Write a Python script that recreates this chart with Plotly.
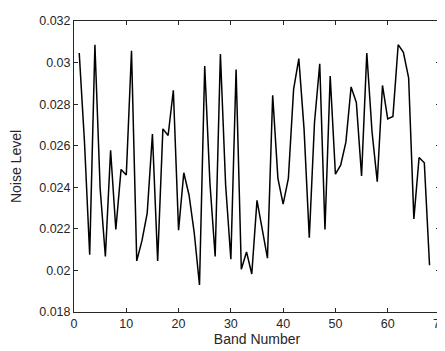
import plotly.graph_objects as go

bands = list(range(1, 69))
noise = [0.03046, 0.0262, 0.02075, 0.03086, 0.02395, 0.02067, 0.02578, 0.02197, 0.02486, 0.02459,
         0.03057, 0.02046, 0.02143, 0.02276, 0.02656, 0.02046, 0.02681, 0.02649, 0.02867, 0.02194,
         0.0247, 0.02363, 0.0218, 0.0193, 0.02983, 0.0242, 0.02067, 0.03041, 0.02411, 0.02054,
         0.02967, 0.02006, 0.02089, 0.01983, 0.02337, 0.02197, 0.02059, 0.02843, 0.02443, 0.02319,
         0.02443, 0.02871, 0.03019, 0.0268, 0.02157, 0.02713, 0.02994, 0.02197, 0.02935, 0.02463,
         0.02506, 0.02617, 0.02883, 0.02808, 0.02454, 0.03046, 0.02667, 0.02427, 0.0289, 0.02729,
         0.02741, 0.03086, 0.03049, 0.02927, 0.02248, 0.02543, 0.02518, 0.02025]

xticks = [0, 10, 20, 30, 40, 50, 60, 70]
yticks = [0.018, 0.020, 0.022, 0.024, 0.026, 0.028, 0.030, 0.032]
ytick_text = ["0.018", "0.02", "0.022", "0.024", "0.026", "0.028", "0.03", "0.032"]

axcol = "#262626"
fig = go.Figure(go.Scatter(x=bands, y=noise, mode="lines",
                           line=dict(color="black", width=1.5)))
fig.update_layout(
    width=445, height=351,
    margin=dict(l=66, r=6, t=11, b=47),
    plot_bgcolor="white", paper_bgcolor="white",
    font=dict(family="Liberation Sans, Arial, sans-serif", size=12.5, color=axcol),
    showlegend=False,
)
fig.update_xaxes(range=[0, 70], tickvals=xticks, ticks="inside", ticklen=4,
                 showline=True, linecolor=axcol, linewidth=1, mirror="allticks",
                 showgrid=False, zeroline=False, tickcolor=axcol,
                 title=dict(text="Band Number", font=dict(size=14), standoff=3))
fig.update_yaxes(range=[0.018, 0.032], tickvals=yticks, ticktext=ytick_text,
                 ticks="inside", ticklen=4,
                 showline=True, linecolor=axcol, linewidth=1, mirror="allticks",
                 showgrid=False, zeroline=False, tickcolor=axcol,
                 title=dict(text="Noise Level", font=dict(size=14), standoff=14))
fig.write_html("out.html")
